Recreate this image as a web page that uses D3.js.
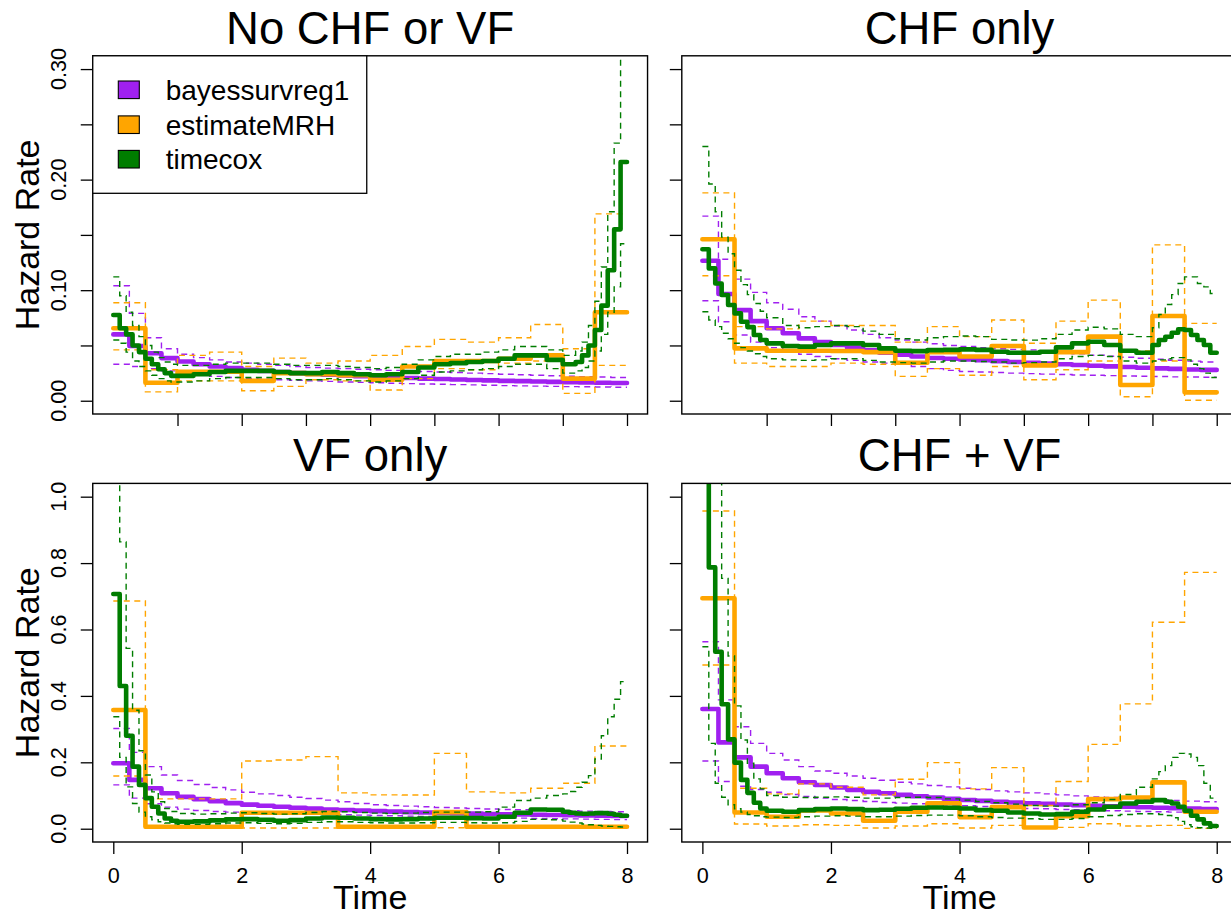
<!DOCTYPE html>
<html><head><meta charset="utf-8">
<script src="https://cdn.jsdelivr.net/npm/d3@7"></script>
<style>
body{margin:0;background:#fff}
svg{display:block}
text{font-family:"Liberation Sans",Arial,Helvetica,sans-serif;fill:#000}
</style>
</head><body>
<svg id="c" width="1231" height="913"></svg>
<script>
// ---------- time grids (step starts) ----------
const gridBS  = [0,0.25,0.5,0.75,1,1.25,1.5,1.75,2,2.25,2.5,2.75,3,3.25,3.5,3.75,4,4.25,4.5,4.75,5,5.25,5.5,5.75,6,6.25,6.5,6.75,7,7.25,7.5,7.75];
const gridMRH = [0,0.5,1,1.5,2,2.5,3,3.5,4,4.5,5,5.5,6,6.5,7,7.5];
const gridTC  = [0,0.1,0.2,0.3,0.4,0.5,0.6,0.7,0.8,0.9,
                 1,1.25,1.5,1.75,2,2.25,2.5,2.75,3,3.25,3.5,3.75,4,4.25,4.5,4.75,5,5.25,5.5,5.75,6,6.25,6.5,6.75,
                 7,7.1,7.2,7.3,7.4,7.5,7.6,7.7,7.8,7.9];
const tEnd = 8;

// ---------- Panel 1: No CHF or VF ----------
const noneBayes  = [0.060,0.0495,0.043,0.0385,0.0355,0.033,0.031,0.0295,0.028,0.027,0.026,0.025,0.0242,0.0235,0.0228,0.0221,0.0215,0.021,0.0205,0.020,0.0196,0.0192,0.0188,0.0184,0.018,0.0177,0.0174,0.0171,0.0168,0.0165,0.0162,0.016];
const noneBayesU = [0.104,0.079,0.057,0.047,0.042,0.039,0.037,0.035,0.034,0.033,0.032,0.031,0.030,0.0295,0.029,0.0285,0.028,0.0275,0.027,0.0265,0.026,0.0255,0.025,0.0245,0.024,0.0235,0.023,0.0226,0.0222,0.0218,0.0214,0.021];
const noneBayesL = [0.033,0.031,0.029,0.027,0.025,0.024,0.022,0.021,0.020,0.0195,0.019,0.0185,0.018,0.0175,0.017,0.0166,0.0162,0.0158,0.0155,0.0152,0.0149,0.0146,0.0143,0.014,0.0137,0.0134,0.0132,0.013,0.0128,0.0126,0.0124,0.0122];
const noneMRH  = [0.0655,0.0163,0.0262,0.0262,0.018,0.025,0.024,0.023,0.019,0.031,0.036,0.036,0.038,0.041,0.020,0.080];
const noneMRHU = [0.0886,0.028,0.041,0.044,0.031,0.0385,0.034,0.036,0.041,0.049,0.0555,0.053,0.057,0.069,0.047,0.169];
const noneMRHL = [0.046,0.008,0.018,0.018,0.009,0.013,0.019,0.018,0.0097,0.020,0.029,0.028,0.034,0.036,0.0067,0.032];
const noneTC  = [0.0775,0.0655,0.060,0.050,0.044,0.038,0.033,0.0285,0.025,0.0225,
                 0.0225,0.024,0.026,0.027,0.027,0.027,0.026,0.025,0.025,0.026,0.025,0.024,0.023,0.024,0.026,0.030,0.033,0.034,0.035,0.036,0.038,0.041,0.041,0.037,
                 0.033,0.033,0.035,0.041,0.050,0.064,0.086,0.118,0.155,0.216];
const noneTCU = [0.112,0.095,0.080,0.068,0.058,0.050,0.044,0.039,0.035,0.033,
                 0.032,0.032,0.033,0.034,0.034,0.034,0.033,0.032,0.032,0.032,0.031,0.030,0.029,0.030,0.033,0.037,0.040,0.042,0.042,0.044,0.046,0.049,0.049,0.046,
                 0.041,0.041,0.045,0.053,0.068,0.090,0.121,0.171,0.233,0.32];
const noneTCL = [0.055,0.052,0.044,0.036,0.031,0.027,0.023,0.020,0.018,0.017,
                 0.017,0.018,0.020,0.021,0.021,0.021,0.020,0.019,0.019,0.020,0.019,0.018,0.017,0.018,0.020,0.023,0.026,0.027,0.028,0.029,0.031,0.033,0.033,0.029,
                 0.025,0.025,0.027,0.030,0.036,0.045,0.060,0.080,0.103,0.142];

// ---------- Panel 2: CHF only ----------
const chfBayes  = [0.1266,0.0965,0.082,0.072,0.0655,0.061,0.0564,0.053,0.0504,0.048,0.0456,0.0435,0.0417,0.040,0.0387,0.038,0.0374,0.0366,0.0358,0.0351,0.0344,0.0337,0.033,0.0323,0.0317,0.0311,0.0305,0.0299,0.0293,0.0288,0.0283,0.0279];
const chfBayesU = [0.167,0.128,0.110,0.098,0.0886,0.0827,0.076,0.072,0.0676,0.064,0.060,0.057,0.055,0.053,0.0515,0.050,0.049,0.048,0.047,0.0465,0.046,0.0448,0.0436,0.0424,0.0412,0.0402,0.0393,0.0384,0.0375,0.0366,0.0358,0.035];
const chfBayesL = [0.0904,0.0715,0.0594,0.053,0.048,0.045,0.042,0.040,0.038,0.0365,0.035,0.034,0.033,0.031,0.029,0.0275,0.0265,0.026,0.0255,0.025,0.0245,0.0241,0.0237,0.0233,0.023,0.0227,0.0224,0.0221,0.0219,0.0216,0.0214,0.0212];
const chfMRH  = [0.146,0.0474,0.0452,0.0452,0.045,0.044,0.0344,0.044,0.040,0.0495,0.032,0.044,0.058,0.0142,0.0766,0.0076];
const chfMRHU = [0.188,0.067,0.065,0.072,0.068,0.068,0.053,0.067,0.058,0.073,0.052,0.072,0.091,0.045,0.141,0.070];
const chfMRHL = [0.113,0.034,0.031,0.031,0.034,0.033,0.022,0.029,0.023,0.031,0.019,0.028,0.036,0.0036,0.036,0.0005];
const chfTC  = [0.137,0.1197,0.106,0.0956,0.0866,0.079,0.0715,0.0666,0.0594,0.0549,
                0.0519,0.0495,0.0489,0.0504,0.0519,0.0519,0.0504,0.0474,0.0452,0.0449,0.0458,0.046,0.0465,0.046,0.0443,0.0434,0.0434,0.0443,0.0483,0.0519,0.0534,0.0504,0.0452,0.0434,
                0.0504,0.0549,0.0579,0.0615,0.0646,0.064,0.0594,0.0549,0.0504,0.0434];
const chfTCU = [0.230,0.196,0.171,0.148,0.133,0.118,0.105,0.096,0.088,0.081,
                0.075,0.068,0.066,0.067,0.068,0.067,0.063,0.060,0.056,0.055,0.057,0.058,0.0585,0.058,0.0555,0.055,0.0548,0.056,0.060,0.064,0.0664,0.065,0.060,0.058,
                0.066,0.078,0.087,0.096,0.106,0.112,0.112,0.106,0.103,0.097];
const chfTCL = [0.0805,0.073,0.067,0.061,0.056,0.052,0.048,0.045,0.0425,0.040,
                0.038,0.037,0.0365,0.037,0.038,0.038,0.0365,0.035,0.0345,0.034,0.035,0.036,0.036,0.0355,0.035,0.034,0.0345,0.035,0.038,0.040,0.041,0.040,0.036,0.034,
                0.036,0.037,0.038,0.039,0.039,0.037,0.033,0.029,0.025,0.021];

// ---------- Panel 3: VF only ----------
const vfBayes  = [0.197,0.147,0.122,0.107,0.096,0.089,0.083,0.077,0.0725,0.069,0.066,0.063,0.0605,0.058,0.0562,0.0545,0.053,0.0515,0.050,0.0488,0.0476,0.0465,0.0455,0.0445,0.0435,0.0427,0.0419,0.0411,0.0404,0.0397,0.039,0.0383];
const vfBayesU = [0.302,0.230,0.187,0.162,0.145,0.133,0.124,0.117,0.110,0.105,0.100,0.095,0.091,0.086,0.081,0.076,0.072,0.070,0.068,0.066,0.064,0.0625,0.061,0.0595,0.058,0.057,0.056,0.055,0.054,0.053,0.052,0.051];
const vfBayesL = [0.132,0.092,0.075,0.065,0.059,0.055,0.052,0.050,0.048,0.047,0.046,0.045,0.044,0.043,0.042,0.041,0.040,0.039,0.038,0.037,0.036,0.035,0.034,0.0335,0.033,0.032,0.031,0.030,0.0295,0.029,0.028,0.0275];
const vfMRH  = [0.3575,0.006,0.006,0.006,0.048,0.048,0.048,0.006,0.006,0.006,0.050,0.006,0.006,0.006,0.006,0.006];
const vfMRHU = [0.686,0.090,0.090,0.090,0.204,0.207,0.217,0.108,0.102,0.1015,0.227,0.111,0.108,0.122,0.137,0.249];
const vfMRHL = [0.159,0.001,0.001,0.001,0.002,0.002,0.002,0.001,0.001,0.001,0.003,0.001,0.001,0.001,0.001,0.001];
const vfTC  = [0.707,0.430,0.280,0.187,0.132,0.092,0.066,0.046,0.031,0.024,
               0.021,0.022,0.025,0.028,0.029,0.027,0.024,0.026,0.031,0.034,0.033,0.031,0.029,0.028,0.029,0.031,0.033,0.033,0.032,0.031,0.036,0.048,0.058,0.057,
               0.051,0.048,0.046,0.045,0.046,0.047,0.047,0.045,0.042,0.039];
const vfTCU = [1.3,0.864,0.543,0.357,0.235,0.162,0.111,0.081,0.061,0.052,
               0.046,0.044,0.045,0.047,0.048,0.046,0.044,0.045,0.049,0.052,0.051,0.049,0.047,0.046,0.047,0.049,0.050,0.050,0.050,0.051,0.065,0.085,0.092,0.100,
               0.105,0.112,0.125,0.14,0.16,0.21,0.28,0.337,0.39,0.443];
const vfTCL = [0.337,0.215,0.126,0.076,0.050,0.036,0.027,0.021,0.017,0.015,
               0.013,0.013,0.015,0.017,0.018,0.016,0.015,0.016,0.019,0.021,0.021,0.019,0.018,0.017,0.017,0.018,0.019,0.019,0.018,0.017,0.018,0.022,0.028,0.027,
               0.023,0.020,0.017,0.014,0.012,0.010,0.008,0.007,0.006,0.005];

// ---------- Panel 4: CHF + VF ----------
const bothBayes  = [0.3605,0.260,0.215,0.187,0.167,0.152,0.140,0.1316,0.124,0.117,0.111,0.107,0.102,0.098,0.094,0.090,0.0864,0.0838,0.0812,0.0788,0.0765,0.0747,0.0729,0.0711,0.069,0.0675,0.066,0.0645,0.063,0.0617,0.0605,0.0593];
const bothBayesU = [0.563,0.388,0.307,0.257,0.227,0.207,0.187,0.174,0.167,0.159,0.152,0.146,0.140,0.135,0.130,0.126,0.122,0.118,0.114,0.111,0.108,0.105,0.102,0.099,0.096,0.094,0.092,0.089,0.087,0.085,0.083,0.081];
const bothBayesL = [0.204,0.142,0.128,0.118,0.110,0.103,0.097,0.092,0.088,0.085,0.082,0.079,0.077,0.075,0.073,0.071,0.069,0.067,0.065,0.063,0.061,0.060,0.058,0.057,0.055,0.054,0.053,0.052,0.051,0.050,0.049,0.048];
const bothMRH  = [0.694,0.049,0.036,0.055,0.046,0.024,0.051,0.0765,0.035,0.065,0.0035,0.038,0.089,0.094,0.1396,0.051];
const bothMRHU = [0.957,0.122,0.105,0.135,0.125,0.102,0.149,0.199,0.120,0.184,0.070,0.142,0.254,0.376,0.622,0.772];
const bothMRHL = [0.493,0.014,0.008,0.012,0.010,0.002,0.008,0.015,0.002,0.010,0.002,0.004,0.015,0.008,0.010,0.001];
const bothTC  = [1.25,0.787,0.533,0.375,0.269,0.199,0.147,0.108,0.078,0.061,
                 0.054,0.051,0.056,0.059,0.061,0.059,0.056,0.057,0.060,0.063,0.064,0.063,0.061,0.056,0.054,0.049,0.046,0.043,0.044,0.051,0.058,0.066,0.076,0.081,
                 0.086,0.086,0.081,0.076,0.066,0.054,0.039,0.028,0.016,0.008];
const bothTCU = [1.5,1.3,1.1,0.754,0.52,0.37,0.267,0.197,0.15,0.12,
                 0.10,0.095,0.094,0.095,0.096,0.095,0.092,0.092,0.094,0.095,0.094,0.090,0.086,0.082,0.078,0.074,0.070,0.068,0.068,0.072,0.078,0.088,0.103,0.125,
                 0.150,0.172,0.19,0.215,0.227,0.225,0.215,0.19,0.137,0.092];
const bothTCL = [0.548,0.257,0.137,0.095,0.072,0.060,0.050,0.043,0.039,0.036,
                 0.035,0.034,0.036,0.038,0.039,0.038,0.036,0.036,0.038,0.040,0.041,0.041,0.039,0.036,0.034,0.032,0.030,0.028,0.028,0.031,0.036,0.040,0.043,0.045,
                 0.045,0.043,0.040,0.033,0.022,0.012,0.006,0.003,0.002,0.001];

// ---------- labels / ticks ----------
const titles = ["No CHF or VF","CHF only","VF only","CHF + VF"];
const legendNames = ["bayessurvreg1","estimateMRH","timecox"];
const colors = ["#A020F0","#FFA500","#007D00"];
const topYTicks = [0,0.05,0.10,0.15,0.20,0.25,0.30];
const topYLabels = ["0.00","","0.10","","0.20","","0.30"];
const botYTicks = [0,0.2,0.4,0.6,0.8,1.0];
const botYLabels = ["0.0","0.2","0.4","0.6","0.8","1.0"];
const topXTicks = [1,2,3,4,5,6,7,8];
const botXTicks = [0,2,4,6,8];
const xLabel = "Time", yLabel = "Hazard Rate";

// ---------- layout ----------
const svg = d3.select("#c");
svg.append("rect").attr("width",1231).attr("height",913).attr("fill","#fff");
const xDomain = [-0.32, 8.32];
const xRanges = [[92.75,647.55],[681.8,1237.3]];
const yDomains = [[-0.012,0.312],[-0.04,1.04]];
const yRanges = [[414,55.8],[842,483.4]];

const panels = [
  {row:0,col:0,bs:[noneBayes,noneBayesL,noneBayesU],mrh:[noneMRH,noneMRHL,noneMRHU],tc:[noneTC,noneTCL,noneTCU]},
  {row:0,col:1,bs:[chfBayes,chfBayesL,chfBayesU],mrh:[chfMRH,chfMRHL,chfMRHU],tc:[chfTC,chfTCL,chfTCU]},
  {row:1,col:0,bs:[vfBayes,vfBayesL,vfBayesU],mrh:[vfMRH,vfMRHL,vfMRHU],tc:[vfTC,vfTCL,vfTCU]},
  {row:1,col:1,bs:[bothBayes,bothBayesL,bothBayesU],mrh:[bothMRH,bothMRHL,bothMRHU],tc:[bothTC,bothTCL,bothTCU]}
];

function stepData(grid, vals){
  const d = grid.map((t,i)=>[t, vals[i]]);
  d.push([tEnd, vals[vals.length-1]]);
  return d;
}

panels.forEach((p,pi)=>{
  const x = d3.scaleLinear().domain(xDomain).range(xRanges[p.col]);
  const y = d3.scaleLinear().domain(yDomains[p.row]).range(yRanges[p.row]);
  const [x0,x1] = xRanges[p.col];
  const [yb,yt] = yRanges[p.row];
  const g = svg.append("g");
  const cid = "clip"+pi;
  svg.append("clipPath").attr("id",cid).append("rect")
     .attr("x",x0).attr("y",yt).attr("width",x1-x0).attr("height",yb-yt);
  const plot = g.append("g").attr("clip-path",`url(#${cid})`);
  const line = d3.line().x(d=>x(d[0])).y(d=>y(d[1])).curve(d3.curveStepAfter);

  const methods = [[gridBS,p.bs],[gridMRH,p.mrh],[gridTC,p.tc]];
  methods.forEach(([grid,series],mi)=>{
    [series[1],series[2]].forEach(s=>{
      plot.append("path").attr("d",line(stepData(grid,s)))
        .attr("fill","none").attr("stroke",colors[mi]).attr("stroke-width",1.4)
        .attr("stroke-dasharray","6,4.5");
    });
    plot.append("path").attr("d",line(stepData(grid,series[0])))
      .attr("fill","none").attr("stroke",colors[mi]).attr("stroke-width",4.6)
      .attr("stroke-linecap","round").attr("stroke-linejoin","round");
  });

  // box
  g.append("rect").attr("x",x0).attr("y",yt).attr("width",x1-x0).attr("height",yb-yt)
   .attr("fill","none").attr("stroke","#000").attr("stroke-width",1.4);

  // x axis
  const xa = d3.axisBottom(x).tickSize(12).tickPadding(13.5)
     .tickValues(p.row===0?topXTicks:botXTicks)
     .tickFormat(p.row===0?()=>"":d3.format("d"));
  const gx = g.append("g").attr("transform",`translate(0,${yb})`).call(xa);
  gx.select(".domain").remove();
  gx.selectAll("line").attr("stroke","#000").attr("stroke-width",1.3);
  gx.selectAll("text").attr("font-size",21.6).attr("font-family","Liberation Sans, Arial, sans-serif").attr("fill","#000");

  // y axis
  const yt_ = p.row===0?topYTicks:botYTicks;
  const yl_ = p.row===0?topYLabels:botYLabels;
  const ya = d3.axisLeft(y).tickSize(12).tickValues(yt_).tickFormat(()=>"");
  const gy = g.append("g").attr("transform",`translate(${x0},0)`).call(ya);
  gy.select(".domain").remove();
  gy.selectAll("line").attr("stroke","#000").attr("stroke-width",1.3);
  if(p.col===0){
    yt_.forEach((v,i)=>{
      if(!yl_[i]) return;
      g.append("text").attr("transform",`translate(${x0-27.2},${y(v)}) rotate(-90)`)
       .attr("text-anchor","middle").attr("font-size",21.6).text(yl_[i]);
    });
    g.append("text").attr("transform",`translate(38.5,${(yb+yt)/2}) rotate(-90)`)
     .attr("text-anchor","middle").attr("font-size",34).text(yLabel);
  }
  if(p.row===1){
    g.append("text").attr("x",(x0+x1)/2).attr("y",909).attr("text-anchor","middle")
     .attr("font-size",34).text(xLabel);
  }
  // title
  g.append("text").attr("x",(x0+x1)/2).attr("y",yt-12.3).attr("text-anchor","middle")
   .attr("font-size",45.5).text(titles[pi]);

  // legend
  if(pi===0){
    const lg = g.append("g");
    lg.append("rect").attr("x",x0).attr("y",yt).attr("width",274).attr("height",137.5)
      .attr("fill","#fff").attr("stroke","#000").attr("stroke-width",1.3);
    const rowY = [89.8,124.7,159.2];
    legendNames.forEach((n,i)=>{
      lg.append("rect").attr("x",118.3).attr("y",rowY[i]-8.8).attr("width",21).attr("height",17.6)
        .attr("fill",colors[i]).attr("stroke","#000").attr("stroke-width",1.1);
      lg.append("text").attr("x",165.7).attr("y",rowY[i]+10).attr("font-size",28).text(n);
    });
  }
});
</script>
</body></html>
